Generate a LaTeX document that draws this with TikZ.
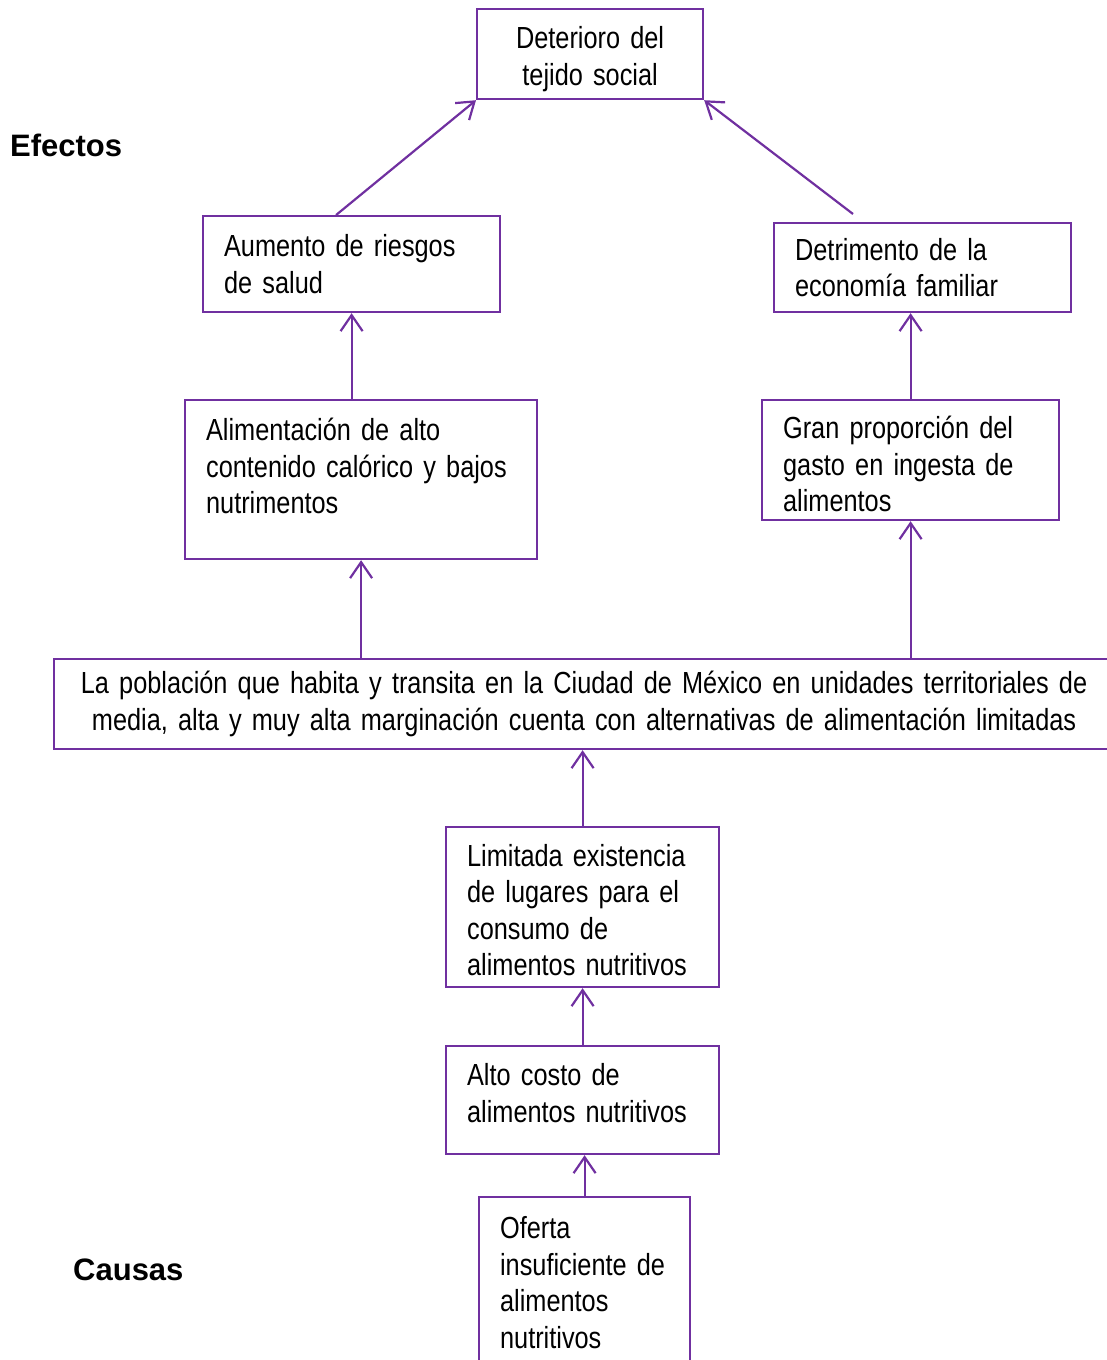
\documentclass[tikz,border=0pt]{standalone}
\usepackage{fontspec}
\setmainfont{Liberation Sans}
\newfontfamily\narrowfont[FakeStretch=0.83]{Liberation Sans}
\usetikzlibrary{arrows.meta, positioning}
\definecolor{morado}{HTML}{7030A0}

\begin{document}
\begin{tikzpicture}[x=1pt, y=-1pt,
    caja/.style={draw=morado, line width=2.2pt, anchor=north west, align=left, inner xsep=21pt, inner ysep=0pt, font=\narrowfont\fontsize{30.5}{36.5}\selectfont},
    flecha/.style={draw=morado, line width=2.2pt, -{Straight Barb[length=16pt, width=22pt]}},
    titulo/.style={font=\bfseries\fontsize{31}{36}\selectfont, anchor=west, inner sep=0pt}]
    \useasboundingbox (0,0) rectangle (1107,1360);

    % Effects
    \node[caja, align=center, text width=184pt, minimum height=90pt] (det) at (476,8) {\rule{0pt}{32pt}Deterioro del\\tejido social};
    \node[caja, text width=255pt, minimum height=96pt] (aum) at (202,215) {Aumento de riesgos\\de salud};
    \node[caja, text width=255pt, minimum height=89pt] (detr) at (773,222) {Detrimento de la\\econom\'ia familiar};
    \node[caja, text width=310pt, minimum height=159pt] (alim) at (184,399) {Alimentaci\'on de alto\\contenido cal\'orico y bajos\\nutrimentos\\[-9.5pt]\mbox{}};
    \node[caja, text width=255pt, minimum height=120pt] (gran) at (761,399) {\rule{0pt}{31pt}Gran proporci\'on del\\gasto en ingesta de\\alimentos};

    % Central problem
    \node[caja, align=center, text width=1018pt, minimum height=90pt] (prob) at (53,658) {La poblaci\'on que habita y transita en la Ciudad de M\'exico en unidades territoriales de\\media, alta y muy alta marginaci\'on cuenta con alternativas de alimentaci\'on limitadas};

    % Causes
    \node[caja, text width=231pt, minimum height=160pt] (lim) at (445,826) {\rule{0pt}{28pt}Limitada existencia\\de lugares para el\\consumo de\\alimentos nutritivos};
    \node[caja, text width=231pt, minimum height=108pt] (alto) at (445,1045) {Alto costo de\\alimentos nutritivos\\[-22.5pt]\mbox{}};
    \node[caja, text width=169pt, minimum height=171pt] (ofe) at (478,1196) {Oferta\\insuficiente de\\alimentos\\nutritivos};

    \node[titulo] (efectos) at (10,145) {Efectos};
    \node[titulo] (causas) at (73,1270) {Causas};

    % Arrows
    \coordinate (q) at (853,214);
    \draw[flecha] ([xshift=-15.5pt]aum.north) -- (det.south west);
    \draw[flecha] (q) -- (det.south east);
    \draw[flecha] (alim.north -| aum.south) -- (aum.south);
    \draw[flecha] (gran.north) -- (gran.north |- detr.south);
    \draw[flecha] (prob.north -| alim.south) -- (alim.south);
    \draw[flecha] (prob.north -| gran.south) -- (gran.south);
    \draw[flecha] (lim.north) -- (lim.north |- prob.south);
    \draw[flecha] (alto.north) -- (lim.south);
    \draw[flecha] (ofe.north) -- (ofe.north |- alto.south);
\end{tikzpicture}
\end{document}
